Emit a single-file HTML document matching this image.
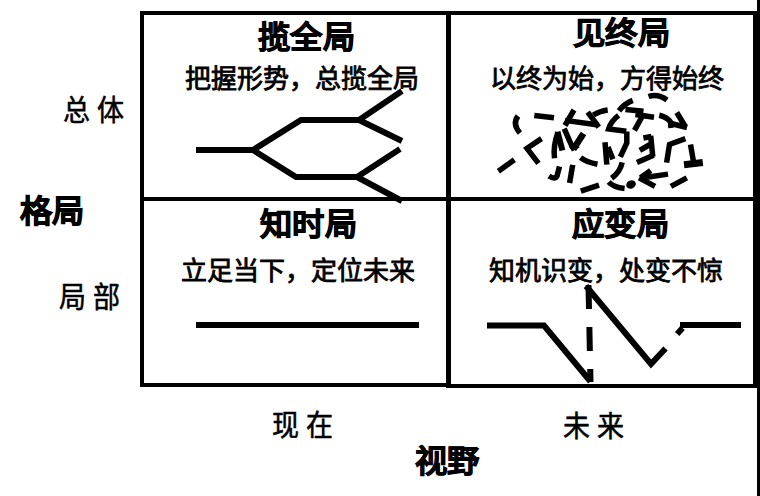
<!DOCTYPE html>
<html lang="zh-CN">
<head>
<meta charset="utf-8">
<style>
html,body{margin:0;padding:0;background:#fff;}
body{width:760px;height:496px;position:relative;overflow:hidden;font-family:"Liberation Sans",sans-serif;color:#000;}
.t{position:absolute;white-space:nowrap;line-height:1;}
.h{font-size:32px;font-weight:bold;-webkit-text-stroke:0.9px #000;transform:scale(1.01,0.97);transform-origin:0 0;}
.s{font-size:26px;-webkit-text-stroke:0.8px #000;}
.l{font-size:27px;font-family:"Liberation Serif",serif;letter-spacing:7px;-webkit-text-stroke:0.5px #000;transform:scaleY(1.08);transform-origin:0 0;}
svg{position:absolute;left:0;top:0;}
</style>
</head>
<body>
<svg width="760" height="496" viewBox="0 0 760 496">
  <g fill="#000">
    <rect x="140" y="11" width="617" height="4"/>
    <rect x="140" y="11" width="4" height="376"/>
    <rect x="140" y="383" width="310" height="4"/>
    <rect x="446" y="384" width="311" height="4"/>
    <rect x="753" y="11" width="4" height="377"/>
    <rect x="757" y="0" width="3" height="496"/>
    <rect x="446" y="11" width="5" height="377"/>
    <rect x="140" y="197" width="617" height="4"/>
  </g>
  <g fill="none" stroke="#000" stroke-width="6" stroke-linejoin="miter">
    <!-- top-left branches -->
    <polyline points="196,150 253,150 301,120 359,120 402,91"/>
    <polyline points="253,150 296,177 357,177 400,149"/>
    <polyline points="359,120 402,141"/>
    <polyline points="357,177 402,201"/>
    <!-- bottom-left line -->
    <line x1="196" y1="325" x2="419" y2="325"/>
  </g>

  <g fill="none" stroke="#000" stroke-width="6" stroke-linejoin="miter">
    <!-- bottom-right zigzag -->
    <polyline points="487,325.5 544,325.5 590.5,381.5"/>
    <path d="M588.5,285 L590.5,382" stroke-dasharray="24,18"/>
    <polyline points="586,286 651,364 665.5,348.5"/>
    <path d="M677.2,334 L682.5,328"/>
    <path d="M680,325 L741,325"/>
  </g>
  <g fill="none" stroke="#000" stroke-width="5.5" stroke-linecap="butt" stroke-linejoin="miter">
    <!-- scribble -->
    <path d="M518,116 Q512,124 520,133"/>
    <path d="M534.3,115.5 L554,117.7"/>
    <path d="M498.4,171.3 L514.3,159.8"/>
    <path d="M541.5,138.6 L527,148.3 L538.5,163.4"/>
    <path d="M559.5,166.5 L557,176 Q555,180 549,176"/>
    <path d="M574,110 L565,125.5"/>
    <path d="M565,120.4 L598.5,125"/>
    <path d="M587.7,112.2 L598.8,127.2"/>
    <path d="M593.3,115 Q600,111 607.7,110"/>
    <path d="M618.6,115.4 Q611,121 608.6,129 L626.3,131.3"/>
    <path d="M564.2,128.6 L572.7,148"/>
    <path d="M583.5,133.5 L573.3,149.2" stroke-width="6.5"/>
    <path d="M569,146.5 L576.5,142 L579.5,147.5 L572,151.5 Z" fill="#000" stroke="none"/>
    <path d="M558.1,132.3 Q553,145 554.5,158.3"/>
    <path d="M557.5,131.7 L562.4,150.4" stroke-width="6"/>
    <path d="M580.5,157.7 Q586,162 597.5,164.3"/>
    <path d="M572.7,164.9 L569.6,183"/>
    <path d="M580.8,191.2 L599,185.2"/>
    <path d="M605,142.3 L606.8,164.6"/>
    <path d="M608,147.1 L612.9,159.2"/>
    <path d="M622.2,162.3 Q620,172 611.6,178.2"/>
    <path d="M608.7,182.1 Q613,187.2 624.6,188.6"/>
    <path d="M648.5,96.5 Q658,93.5 667,100"/>
    <path d="M632.7,100.4 Q624,104 619,110.9"/>
    <path d="M625.4,109.5 L643.5,111.3"/>
    <path d="M643.5,114 L634.5,130.4"/>
    <path d="M635.4,114.5 L654,117.2"/>
    <path d="M659.2,115.2 Q667,117 670.5,122 L671,128"/>
    <path d="M676.8,112.5 L685.5,127"/>
    <path d="M669,123 L687,127.5"/>
    <path d="M685.4,138.7 L669.5,144.5 L666.6,162.6"/>
    <path d="M643.4,138 L651.4,136.5"/>
    <path d="M650.7,135.8 L652.8,156.8"/>
    <path d="M639.8,150.3 L650,144.5"/>
    <path d="M636.9,162.6 L653.6,155.3"/>
    <path d="M626.8,131.4 L626.8,143 L620.3,156.8"/>
    <path d="M643.4,177.8 L668,174.1"/>
    <path d="M650.7,170.5 L640.5,177.8"/>
    <path d="M639.1,177.8 L655,186.4"/>
    <path d="M690.5,144.5 L693.4,161.1"/>
    <path d="M684,164.7 L702.8,162.6" stroke-width="7"/>
    <path d="M686.8,177.8 L670.9,186.4"/>
  </g>
  <ellipse cx="631" cy="184.5" rx="5" ry="4" fill="#000" transform="rotate(-25 631 184.5)"/>
</svg>
<div class="t h" style="left:258px;top:22px">揽全局</div>
<div class="t s" style="left:185px;top:66px">把握形势，总揽全局</div>
<div class="t h" style="left:573px;top:18px">见终局</div>
<div class="t s" style="left:490px;top:66px">以终为始，方得始终</div>
<div class="t h" style="left:260px;top:209px">知时局</div>
<div class="t s" style="left:181px;top:258px">立足当下，定位未来</div>
<div class="t h" style="left:572px;top:209px">应变局</div>
<div class="t s" style="left:489px;top:258px">知机识变，处变不惊</div>
<div class="t l" style="left:63px;top:97px">总体</div>
<div class="t l" style="left:59px;top:284px">局部</div>
<div class="t h" style="left:20px;top:196px">格局</div>
<div class="t l" style="left:272px;top:412px">现在</div>
<div class="t l" style="left:563px;top:413px">未来</div>
<div class="t h" style="left:415px;top:446px">视野</div>
</body>
</html>
